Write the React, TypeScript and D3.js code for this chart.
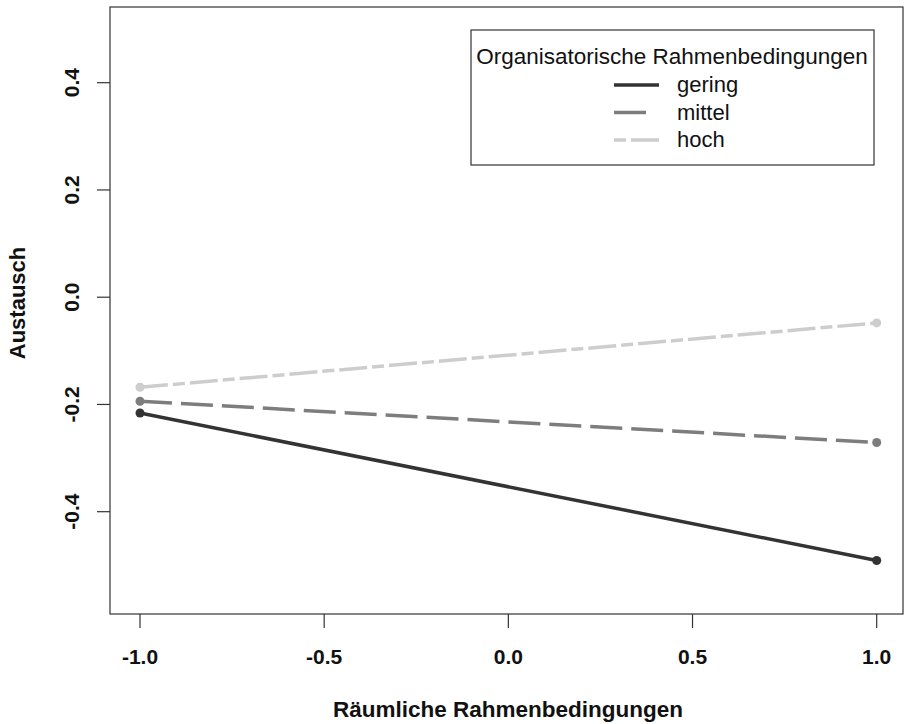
import React, { useRef, useEffect } from 'react';
import * as d3 from 'd3';

// x positions (Räumliche Rahmenbedingungen) and predicted Austausch per group
const xValues = [-1, 1];
const groups = ['gering', 'mittel', 'hoch'];
const gering = [-0.216, -0.491];
const mittel = [-0.194, -0.271];
const hoch = [-0.168, -0.048];
const xTicks = [-1.0, -0.5, 0.0, 0.5, 1.0];
const yTicks = [-0.4, -0.2, 0.0, 0.2, 0.4];

const colors = ['#333333', '#7d7d7d', '#cdcdcd'];
const dashes = ['none', '32,9', '28,5,12,5'];
const legendDashes = ['none', '32,20', '12,5,28,5'];

const fmt = (d: number) => d.toFixed(1);

const App = () => {
  const ref = useRef<SVGSVGElement>(null);

  useEffect(() => {
    const svg = d3.select(ref.current);
    svg.selectAll('*').remove();
    const font = 'Liberation Sans, Arial, Helvetica, sans-serif';

    const box = { left: 110, right: 903, top: 7, bottom: 614 };
    const x = d3.scaleLinear().domain([-1, 1]).range([140, 876.7]);
    const y = d3.scaleLinear().domain([-0.4, 0.4]).range([511.7, 82.7]);

    svg
      .append('rect')
      .attr('x', box.left)
      .attr('y', box.top)
      .attr('width', box.right - box.left)
      .attr('height', box.bottom - box.top)
      .attr('fill', 'none')
      .attr('stroke', '#333')
      .attr('stroke-width', 1.2);

    // y axis
    const ya = svg.append('g').attr('font-family', font);
    ya.selectAll('line')
      .data(yTicks)
      .enter()
      .append('line')
      .attr('x1', box.left - 13)
      .attr('x2', box.left)
      .attr('y1', (d) => y(d))
      .attr('y2', (d) => y(d))
      .attr('stroke', '#333')
      .attr('stroke-width', 1.2);
    ya.selectAll('text')
      .data(yTicks)
      .enter()
      .append('text')
      .attr('transform', (d) => `translate(79,${y(d)}) rotate(-90)`)
      .attr('text-anchor', 'middle')
      .attr('font-size', 21)
      .attr('font-weight', 'bold')
      .attr('fill', '#111')
      .text((d) => fmt(d));

    // x axis
    const xa = svg.append('g').attr('font-family', font);
    xa.selectAll('line')
      .data(xTicks)
      .enter()
      .append('line')
      .attr('x1', (d) => x(d))
      .attr('x2', (d) => x(d))
      .attr('y1', box.bottom)
      .attr('y2', box.bottom + 14)
      .attr('stroke', '#333')
      .attr('stroke-width', 1.2);
    xa.selectAll('text')
      .data(xTicks)
      .enter()
      .append('text')
      .attr('x', (d) => x(d))
      .attr('y', 664)
      .attr('text-anchor', 'middle')
      .attr('font-size', 21)
      .attr('font-weight', 'bold')
      .attr('fill', '#111')
      .text((d) => fmt(d));

    svg
      .append('text')
      .attr('x', 508)
      .attr('y', 717)
      .attr('text-anchor', 'middle')
      .attr('font-family', font)
      .attr('font-size', 22.5)
      .attr('font-weight', 'bold')
      .attr('fill', '#111')
      .text('Räumliche Rahmenbedingungen');

    svg
      .append('text')
      .attr('transform', `translate(25,303) rotate(-90)`)
      .attr('text-anchor', 'middle')
      .attr('font-family', font)
      .attr('font-size', 22)
      .attr('font-weight', 'bold')
      .attr('fill', '#111')
      .text('Austausch');

    // series
    const series = [gering, mittel, hoch];
    const line = d3
      .line<number>()
      .x((_, i) => x(xValues[i]))
      .y((d) => y(d));

    series.forEach((vals, k) => {
      svg
        .append('path')
        .attr('d', line(vals))
        .attr('fill', 'none')
        .attr('stroke', colors[k])
        .attr('stroke-width', 3.5)
        .attr('stroke-dasharray', dashes[k]);
      svg
        .append('g')
        .selectAll('circle')
        .data(vals)
        .enter()
        .append('circle')
        .attr('cx', (_, i) => x(xValues[i]))
        .attr('cy', (d) => y(d))
        .attr('r', 4.5)
        .attr('fill', colors[k]);
    });

    // legend
    const legend = svg.append('g').attr('font-family', font);
    legend
      .append('rect')
      .attr('x', 471)
      .attr('y', 30)
      .attr('width', 403)
      .attr('height', 135)
      .attr('fill', 'white')
      .attr('stroke', '#333')
      .attr('stroke-width', 1.2);
    legend
      .append('text')
      .attr('x', 672)
      .attr('y', 64)
      .attr('text-anchor', 'middle')
      .attr('font-size', 22.5)
      .attr('fill', '#111')
      .text('Organisatorische Rahmenbedingungen');
    groups.forEach((g, k) => {
      const ly = 85 + k * 27.5;
      legend
        .append('line')
        .attr('x1', 614)
        .attr('x2', 659)
        .attr('y1', ly)
        .attr('y2', ly)
        .attr('stroke', colors[k])
        .attr('stroke-width', 3.5)
        .attr('stroke-dasharray', legendDashes[k]);
      legend
        .append('text')
        .attr('x', 677)
        .attr('y', ly + 7)
        .attr('font-size', 22)
        .attr('fill', '#111')
        .text(g);
    });
  }, []);

  return (
    <svg
      ref={ref}
      width={904}
      height={724}
      style={{ position: 'absolute', left: 0, top: 0, background: 'white' }}
    ></svg>
  );
};

export default App;
